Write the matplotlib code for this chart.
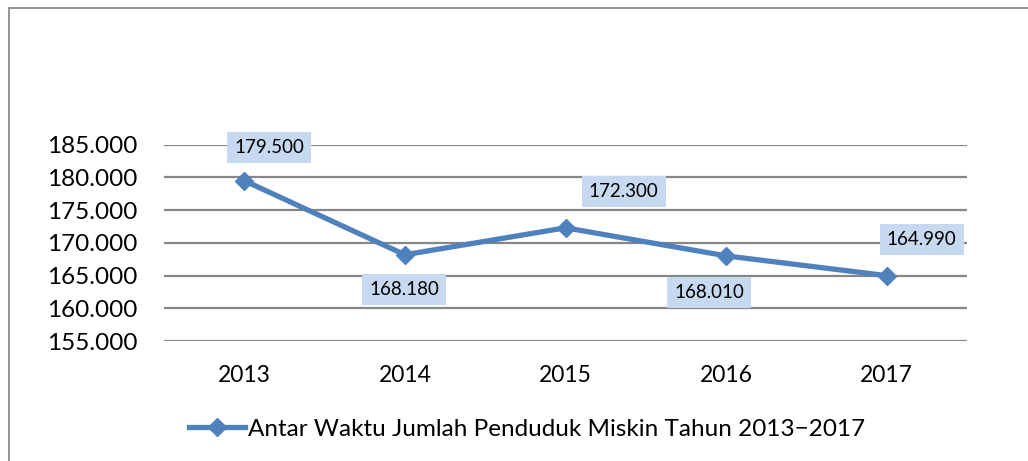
import matplotlib
matplotlib.use("Agg")
import matplotlib.pyplot as plt
from matplotlib.lines import Line2D

years = ["2013", "2014", "2015", "2016", "2017"]
values = [179.500, 168.180, 172.300, 168.010, 164.990]
value_labels = ["179.500", "168.180", "172.300", "168.010", "164.990"]
yticks = [155, 160, 165, 170, 175, 180, 185]
ytick_labels = ["155.000", "160.000", "165.000", "170.000", "175.000", "180.000", "185.000"]
series_name = "Antar Waktu Jumlah Penduduk Miskin Tahun 2013\u22122017"

# label offsets in pixels (dx, dy) relative to point (screen, y up)
label_offsets = [(25, 33), (-1, -35), (58, 36), (-17, -37), (35, 36)]

plt.rcParams['font.family'] = ['Lato', 'DejaVu Sans']

fig = plt.figure(figsize=(10.28, 4.61), dpi=100)
ax = fig.add_axes([164/1028, 120/461, 803/1028, 196.3/461])

line_color = "#4F81BD"
x = list(range(len(years)))
ax.plot(x, values, color=line_color, linewidth=3.8, marker="D", markersize=9.5,
        label=series_name, zorder=3, clip_on=False)

ax.set_xlim(-0.5, len(years) - 0.5)
ax.set_ylim(155, 185)
ax.set_yticks(yticks)
ax.set_yticklabels(ytick_labels, fontsize=17.5)
ax.set_xticks(x)
ax.set_xticklabels(years, fontsize=16.5)
ax.tick_params(axis='both', length=0, colors="#000000")
ax.tick_params(axis='y', pad=19)
ax.tick_params(axis='x', pad=17)
ax.grid(axis='y', color="#878787", linewidth=1.6)
ax.set_axisbelow(True)
for s in ax.spines.values():
    s.set_visible(False)

for xi, v, lab, (dx, dy) in zip(x, values, value_labels, label_offsets):
    ax.annotate(lab, (xi, v), xytext=(dx, dy), textcoords="offset pixels",
                ha="center", va="center", fontsize=13.5, zorder=4,
                bbox=dict(boxstyle="square,pad=0.38", facecolor="#C6D9F1", edgecolor="none"),
                annotation_clip=False)

fig.legend(loc="center", bbox_to_anchor=(527/1028, 1 - 429/461), frameon=False,
           fontsize=17.5, handlelength=2.3, handletextpad=0.15)

# figure border (left and top)
fig.add_artist(Line2D([9/1028, 9/1028], [0, 1 - 8/461], transform=fig.transFigure,
                      color="#8C8C8C", linewidth=1.3))
fig.add_artist(Line2D([9/1028, 1], [1 - 8/461, 1 - 8/461], transform=fig.transFigure,
                      color="#8C8C8C", linewidth=1.3))

fig.savefig("out.png", dpi=100)
